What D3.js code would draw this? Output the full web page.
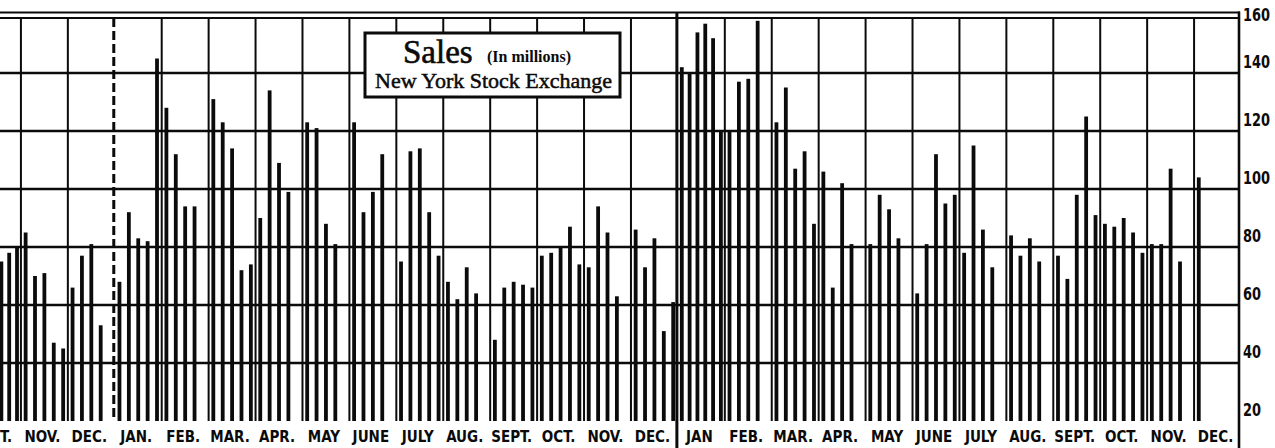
<!DOCTYPE html>
<html>
<head>
<meta charset="utf-8">
<script src="https://cdn.jsdelivr.net/npm/d3@7"></script>
<style>
  html, body { margin: 0; padding: 0; background: #fff; overflow: hidden; }
  svg { display: block; }
</style>
</head>
<body>
<svg id="chart"></svg>
<script>
// Month labels along the bottom, Oct 1974 through Dec 1976
const monthLabels = [
  "OCT.", "NOV.", "DEC.",
  "JAN.", "FEB.", "MAR.", "APR.", "MAY", "JUNE", "JULY", "AUG.", "SEPT.", "OCT.", "NOV.", "DEC.",
  "JAN", "FEB.", "MAR.", "APR.", "MAY", "JUNE", "JULY", "AUG.", "SEPT.", "OCT.", "NOV.", "DEC."
];

// Weekly share volume (millions), one inner list per month.
// null marks weeks that fall before the left edge of the chart.
const sales1974 = [
  [null, null, null, 75, 78, 80],
  [85, 70, 71, 47, 45],
  [66, 77, 81, 53]
];
const sales1975 = [
  [68, 92, 83, 82, 145],
  [128, 112, 94, 94],
  [131, 123, 114, 72, 74],
  [90, 134, 109, 99],
  [123, 121, 88, 81],
  [123, 92, 99, 112],
  [75, 113, 114, 92, 77],
  [68, 62, 73, 64],
  [48, 66, 68, 67, 66],
  [77, 78, 80, 87, 74],
  [73, 94, 85, 63],
  [86, 73, 83, 51, 61]
];
const sales1976 = [
  [142, 140, 154, 157, 152, 120],
  [120, 137, 138, 158],
  [123, 135, 107, 113, 88],
  [106, 66, 102, 81],
  [81, 98, 93, 83],
  [64, 81, 112, 95, 98],
  [78, 115, 86, 73],
  [84, 77, 83, 75],
  [77, 69, 98, 125, 91],
  [88, 87, 90, 85, 78],
  [81, 81, 107, 75],
  [104]
];

// Right-hand axis ticks
const yTicks = [20, 40, 60, 80, 100, 120, 140, 160];

const W = 1275, H = 448;
const plotRight = 1239;
const months = [...sales1974, ...sales1975, ...sales1976];

const svg = d3.select("#chart").attr("width", W).attr("height", H);
svg.append("rect").attr("width", W).attr("height", H).attr("fill", "#fff");

// Scales
const x = d3.scaleBand().domain(d3.range(months.length)).range([-26, 1241]).padding(0);
const y = d3.scaleLinear().domain([20, 160]).range([421, 15]);
const bw = x.bandwidth();

// Flatten weekly bars: spread inside each month band, 5 slots (or more if needed)
const bars = [];
months.forEach((vals, m) => {
  const step = bw / Math.max(5, vals.length);
  vals.forEach((v, i) => {
    if (v != null) bars.push({ m, v, cx: x(m) + (i + 0.5) * step });
  });
});

const ink = "#0b0b0b";
const yearStarts = monthLabels.map((d, i) => d.startsWith("JAN") ? i : -1).filter(i => i > 0);

// Horizontal grid lines
svg.append("g").selectAll("line")
  .data(yTicks.filter(t => t > 20 && t < 160))
  .join("line")
  .attr("x1", 0).attr("x2", plotRight)
  .attr("y1", d => y(d)).attr("y2", d => y(d))
  .attr("stroke", ink).attr("stroke-width", 2.4);

// Month separators
svg.append("g").selectAll("line")
  .data(d3.range(1, months.length).filter(m => !yearStarts.includes(m) && x(m) > 0 && x(m) < plotRight - 2))
  .join("line")
  .attr("x1", d => x(d)).attr("x2", d => x(d))
  .attr("y1", y(160) + 3).attr("y2", y(20))
  .attr("stroke", ink).attr("stroke-width", 2);

// Bars
svg.append("g").selectAll("rect")
  .data(bars)
  .join("rect")
  .attr("x", d => d.cx - 1.9)
  .attr("width", 3.8)
  .attr("y", d => y(d.v))
  .attr("height", d => y(20) - y(d.v))
  .attr("fill", ink);

// Year dividers: first dashed, second solid and running through the labels
yearStarts.forEach((m, k) => {
  const ln = svg.append("line")
    .attr("x1", x(m) - 1).attr("x2", x(m) - 1)
    .attr("stroke", ink).attr("stroke-width", 3);
  if (k === 0) {
    ln.attr("y1", y(160) + 3).attr("y2", y(20)).attr("stroke-dasharray", "9,4");
  } else {
    ln.attr("y1", y(160) - 3).attr("y2", H);
  }
});

// Double top rule
[y(160) - 2.5, y(160) + 3].forEach(yy => {
  svg.append("line").attr("x1", 0).attr("x2", plotRight + 1)
    .attr("y1", yy).attr("y2", yy)
    .attr("stroke", ink).attr("stroke-width", 2.2);
});

// Right frame
svg.append("line")
  .attr("x1", plotRight).attr("x2", plotRight)
  .attr("y1", y(160) - 3.5).attr("y2", H)
  .attr("stroke", ink).attr("stroke-width", 2.6);

// Right-hand value labels, tall and narrow, sitting just above their rules
svg.append("g").selectAll("text")
  .data(yTicks)
  .join("text")
  .attr("transform", d => `translate(${plotRight + 4},${d === 160 ? y(d) : y(d) - 11}) scale(0.8,1)`)
  .attr("dominant-baseline", "central")
  .attr("font-family", "'Liberation Sans Narrow', 'DejaVu Sans Condensed', sans-serif")
  .attr("font-weight", "bold")
  .attr("font-size", 18)
  .attr("fill", ink)
  .text(d => d);

// Month labels
svg.append("g").selectAll("text")
  .data(monthLabels)
  .join("text")
  .attr("x", (d, i) => x(i) + bw / 2 - 2)
  .attr("y", 442)
  .attr("text-anchor", "middle")
  .attr("font-family", "'Liberation Sans Narrow', 'DejaVu Sans Condensed', sans-serif")
  .attr("font-weight", "bold")
  .attr("font-size", 15)
  .attr("fill", ink)
  .text(d => d);

// Title box
const box = svg.append("g");
box.append("rect")
  .attr("x", 365).attr("y", 33).attr("width", 255).attr("height", 64)
  .attr("fill", "#fff").attr("stroke", ink).attr("stroke-width", 3);
box.append("text")
  .attr("x", 403).attr("y", 63)
  .attr("font-family", "'Liberation Serif', 'DejaVu Serif', serif")
  .attr("font-size", 33)
  .attr("fill", ink).attr("stroke", ink).attr("stroke-width", 0.6)
  .text("Sales");
box.append("text")
  .attr("x", 487).attr("y", 62)
  .attr("font-family", "'Liberation Serif', 'DejaVu Serif', serif")
  .attr("font-weight", "bold")
  .attr("font-size", 16)
  .attr("fill", ink)
  .text("(In millions)");
box.append("text")
  .attr("x", 375).attr("y", 88)
  .attr("font-family", "'Liberation Serif', 'DejaVu Serif', serif")
  .attr("font-size", 22)
  .attr("fill", ink).attr("stroke", ink).attr("stroke-width", 0.5)
  .text("New York Stock Exchange");
</script>
</body>
</html>
